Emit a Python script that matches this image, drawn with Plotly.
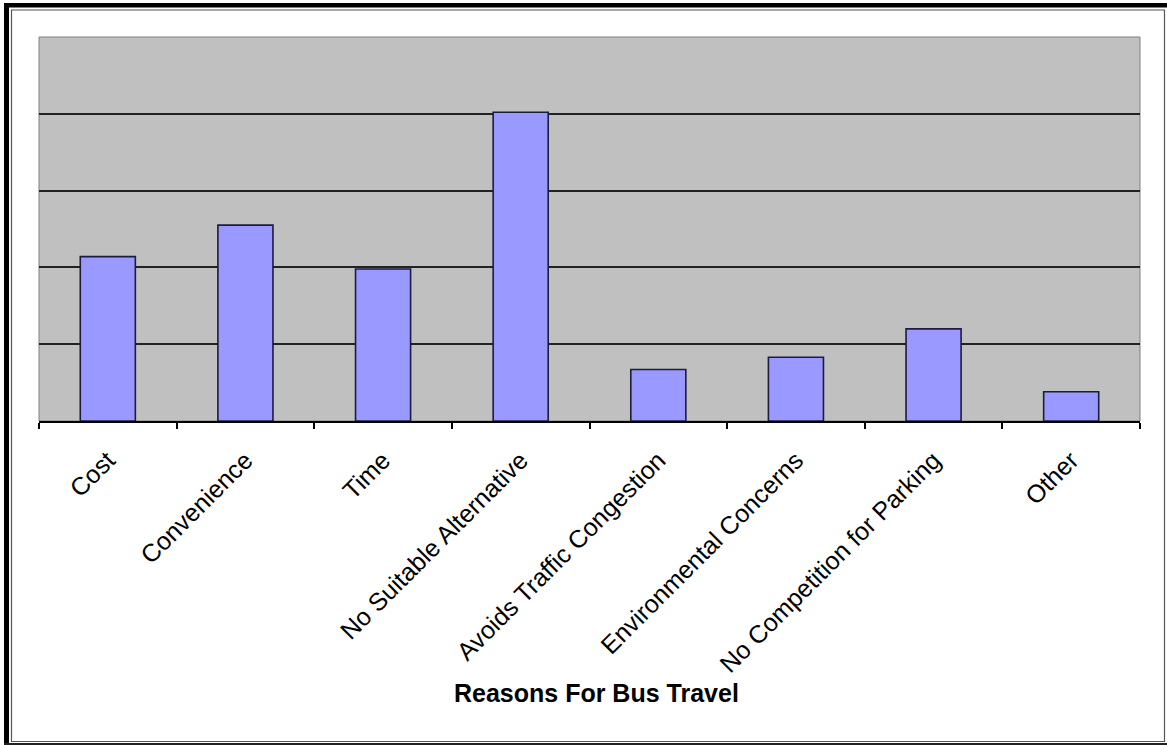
import plotly.graph_objects as go

categories = ["Cost", "Convenience", "Time", "No Suitable Alternative",
              "Avoids Traffic Congestion", "Environmental Concerns",
              "No Competition for Parking", "Other"]
values = [2.14, 2.55, 1.98, 4.02, 0.67, 0.83, 1.20, 0.38]
x_title = "Reasons For Bus Travel"

W, H = 1167, 745
L, R, T, B = 39, 1140, 37, 421

def px(x):
    return (x - L) / (R - L)

def py(y):
    return (B - y) / (B - T)

fig = go.Figure(go.Bar(
    x=categories, y=values,
    marker=dict(color="#9999FF", line=dict(color="#1c1c3c", width=1.6)),
    width=0.4,
))

shapes = [
    # plot area border (gray)
    dict(type="rect", xref="paper", yref="paper", x0=0, x1=1, y0=0, y1=1,
         line=dict(color="#808080", width=1), layer="below"),
    # outer thick black frame (left, top, bottom)
    dict(type="rect", xref="paper", yref="paper", x0=px(4), x1=px(9), y0=py(3), y1=py(745),
         fillcolor="black", line=dict(width=0)),
    dict(type="rect", xref="paper", yref="paper", x0=px(4), x1=px(1167), y0=py(3), y1=py(7.5),
         fillcolor="black", line=dict(width=0)),
    dict(type="rect", xref="paper", yref="paper", x0=px(4), x1=px(1167), y0=py(743), y1=py(745),
         fillcolor="#222222", line=dict(width=0)),
    # inner thin frame
    dict(type="rect", xref="paper", yref="paper", x0=px(11.5), x1=px(1164.5), y0=py(10), y1=py(741.5),
         line=dict(color="#555555", width=1.2)),
]

fig.update_layout(
    width=W, height=H,
    margin=dict(l=L, r=W - R, t=T, b=H - B),
    paper_bgcolor="white",
    plot_bgcolor="#C0C0C0",
    bargap=0.6,
    showlegend=False,
    shapes=shapes,
    font=dict(family="Liberation Sans, Arial, sans-serif", color="black"),
    annotations=[dict(text="<b>" + x_title + "</b>", xref="paper", yref="paper",
                      x=px(596), y=py(693), xanchor="center", yanchor="middle",
                      showarrow=False, font=dict(size=25, color="black"))],
)
fig.update_xaxes(
    showline=True, linecolor="black", linewidth=1.5,
    ticks="outside", ticklen=6, tickcolor="black", tickwidth=1.5,
    tickson="boundaries", tickangle=-45,
    tickfont=dict(size=25, color="black"),
    ticklabelstandoff=13,
    showgrid=False,
)
fig.update_yaxes(
    range=[0, 5], tickvals=[1, 2, 3, 4], showticklabels=False,
    showgrid=True, gridcolor="#222222", gridwidth=1.5,
    zeroline=False, showline=False,
)

fig.write_html("out.html", config={"displayModeBar": False},
               post_script="document.body.style.margin='0';document.body.style.padding='0';")
